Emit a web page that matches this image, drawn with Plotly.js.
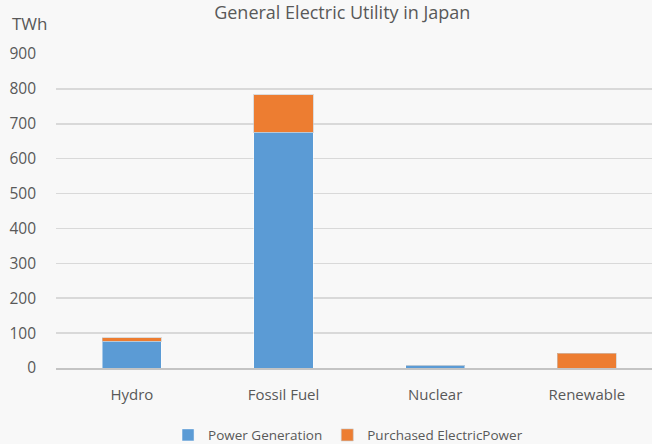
<!DOCTYPE html>
<html>
<head>
<meta charset="utf-8">
<script src="https://cdn.plot.ly/plotly-3.0.1.min.js"></script>
<style>html,body{margin:0;padding:0;background:#f8f8f8;}#chart{width:652px;height:444px;}</style>
</head>
<body>
<div id="chart"></div>
<script>
const categories = ["Hydro", "Fossil Fuel", "Nuclear", "Renewable"];
const seriesNames = ["Power Generation", "Purchased ElectricPower"];
const powerGeneration = [76, 676, 8, 0];
const purchasedPower = [11, 107, 0, 43];
const yTicks = [0, 100, 200, 300, 400, 500, 600, 700, 800, 900];

const font = "'Open Sans', sans-serif";
const traces = [
  {type: "bar", name: seriesNames[0], x: categories, y: powerGeneration,
   marker: {color: "#5b9bd5", line: {color: "rgba(255,255,255,0.45)", width: 1}}},
  {type: "bar", name: seriesNames[1], x: categories, y: purchasedPower,
   marker: {color: "#ed7d31", line: {color: "rgba(200,200,200,0.6)", width: 1}}}
];
const layout = {
  width: 652, height: 444,
  barmode: "stack", bargap: 0.61,
  paper_bgcolor: "#f8f8f8", plot_bgcolor: "#f8f8f8",
  margin: {l: 56, r: 0, t: 53.7, b: 75.7, autoexpand: false},
  font: {family: font, color: "#595959", size: 14},
  title: {text: "General Electric Utility in Japan", font: {family: font, size: 18, color: "#595959"},
          x: 0.525, xanchor: "center", y: 0.971, yanchor: "middle"},
  xaxis: {range: [-0.5, 3.43], showgrid: false, showline: true, linecolor: "#c4c4c4", linewidth: 2,
          tickfont: {size: 15, color: "#595959"}, ticks: "", ticklabelstandoff: 12, fixedrange: true},
  yaxis: {range: [0, 900], tickvals: yTicks, showgrid: true, gridcolor: "#d9d9d9", gridwidth: 1.5,
          zeroline: false, tickfont: {size: 15.5, color: "#595959"}, ticks: "", ticklabelstandoff: 19},
  legend: {orientation: "h", x: 0.49, xanchor: "center", yref: "container", y: 0.02, yanchor: "middle",
           font: {size: 13.5, color: "#595959"}, traceorder: "normal", bgcolor: "rgba(0,0,0,0)"},
  annotations: [{text: "TWh", xref: "paper", yref: "paper", x: -0.077, xanchor: "left",
                 y: 1.097, yanchor: "middle", showarrow: false, font: {size: 17, color: "#595959"}}]
};
Plotly.newPlot("chart", traces, layout, {displayModeBar: false, staticPlot: true});
</script>
</body>
</html>
